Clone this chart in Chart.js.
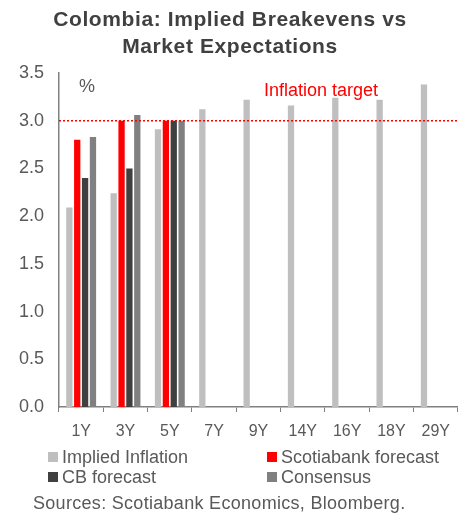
<!DOCTYPE html>
<html>
<head>
<meta charset="utf-8">
<script src="https://cdn.jsdelivr.net/npm/chart.js@4/dist/chart.umd.min.js"></script>
<style>
  body { margin: 0; background: #fff; }
  #wrap { position: relative; width: 460px; height: 514px; }
</style>
</head>
<body>
<div id="wrap"><canvas id="evo"></canvas></div>
<script>
var tenors = ["1Y", "3Y", "5Y", "7Y", "9Y", "14Y", "16Y", "18Y", "29Y"];
var implied = [2.09, 2.24, 2.91, 3.12, 3.22, 3.16, 3.24, 3.22, 3.38];
var scotia = [2.8, 3.0, 3.0, null, null, null, null, null, null];
var cbForecast = [2.4, 2.5, 3.0, null, null, null, null, null, null];
var consensus = [2.83, 3.06, 3.0, null, null, null, null, null, null];
var inflationTarget = 3.0;
var yTicks = [0, 0.5, 1, 1.5, 2, 2.5, 3, 3.5];

var font = "'Liberation Sans', Arial, sans-serif";
var grey = "#595959";

// titles, % unit, target line + label, two column legend, source note
var extras = {
    id: "extras",
    afterDatasetsDraw: function(chart){
        var ctx = chart.ctx;
        var area = chart.chartArea;
        var y = chart.scales.y.getPixelForValue(inflationTarget);
        ctx.save();
        ctx.strokeStyle = "#FF0000";
        ctx.lineWidth = 1.5;
        ctx.setLineDash([2, 2]);
        ctx.beginPath();
        ctx.moveTo(area.left, y);
        ctx.lineTo(area.right, y);
        ctx.stroke();
        ctx.restore();
    },
    afterDraw: function(chart){
        var ctx = chart.ctx;
        ctx.save();
        ctx.textBaseline = "middle";

        ctx.fillStyle = "#404040";
        ctx.textAlign = "center";
        ctx.font = "bold 21px " + font;
        ctx.letterSpacing = "0.6px";
        ctx.fillText("Colombia: Implied Breakevens vs", 230, 20);
        ctx.fillText("Market Expectations", 230, 47);
        ctx.letterSpacing = "0px";

        ctx.fillStyle = grey;
        ctx.font = "18px " + font;
        ctx.textAlign = "left";
        ctx.fillText("%", 79, 87);

        ctx.fillStyle = "#FF0000";
        ctx.textAlign = "center";
        ctx.fillText("Inflation target", 321, 91);

        var cols = [48, 267];
        var rows = [457, 477];
        ctx.textAlign = "left";
        chart.data.datasets.forEach(function(ds, i){
            var x = cols[i % 2];
            var ry = rows[Math.floor(i / 2)];
            ctx.fillStyle = ds.backgroundColor;
            ctx.fillRect(x, ry - 5, 10, 10);
            ctx.fillStyle = grey;
            ctx.fillText(ds.label, x + 14, ry + 1);
        });

        ctx.fillStyle = grey;
        ctx.letterSpacing = "0.3px";
        ctx.fillText("Sources: Scotiabank Economics, Bloomberg.", 33, 504);
        ctx.restore();
    }
};

function barSet(label, values, colour){
    return {
        label: label,
        data: values,
        backgroundColor: colour,
        categoryPercentage: 0.71,
        barPercentage: 0.8
    };
}

var zone = document.getElementById("evo");
var mychart = new Chart(zone, {
    type: "bar",
    data: {
        labels: tenors,
        datasets: [
            barSet("Implied Inflation", implied, "#BFBFBF"),
            barSet("Scotiabank forecast", scotia, "#FF0000"),
            barSet("CB forecast", cbForecast, "#404040"),
            barSet("Consensus", consensus, "#808080")
        ]
    },
    options: {
        responsive: true,
        maintainAspectRatio: false,
        animation: false,
        layout: { padding: { top: 73, left: 0, right: 0, bottom: 0 } },
        plugins: {
            legend: { display: false },
            tooltip: { enabled: false }
        },
        scales: {
            x: {
                grid: {
                    display: true,
                    drawOnChartArea: false,
                    drawTicks: true,
                    tickLength: 5,
                    color: "#808080",
                    offset: true
                },
                border: { display: true, color: "#808080", width: 1.5 },
                ticks: {
                    color: grey,
                    padding: 10,
                    font: { family: font, size: 16 }
                },
                afterFit: function(scale){ scale.height = 107; }
            },
            y: {
                min: 0,
                max: 3.5,
                afterBuildTicks: function(scale){
                    scale.ticks = yTicks.map(function(v){ return { value: v }; });
                },
                grid: { display: false, drawTicks: false },
                border: { display: true, color: "#808080", width: 1.5 },
                ticks: {
                    color: grey,
                    padding: 15,
                    font: { family: font, size: 18 },
                    callback: function(v){ return v.toFixed(1); }
                },
                afterFit: function(scale){ scale.width = 59; }
            }
        }
    },
    plugins: [extras]
});
</script>
</body>
</html>
